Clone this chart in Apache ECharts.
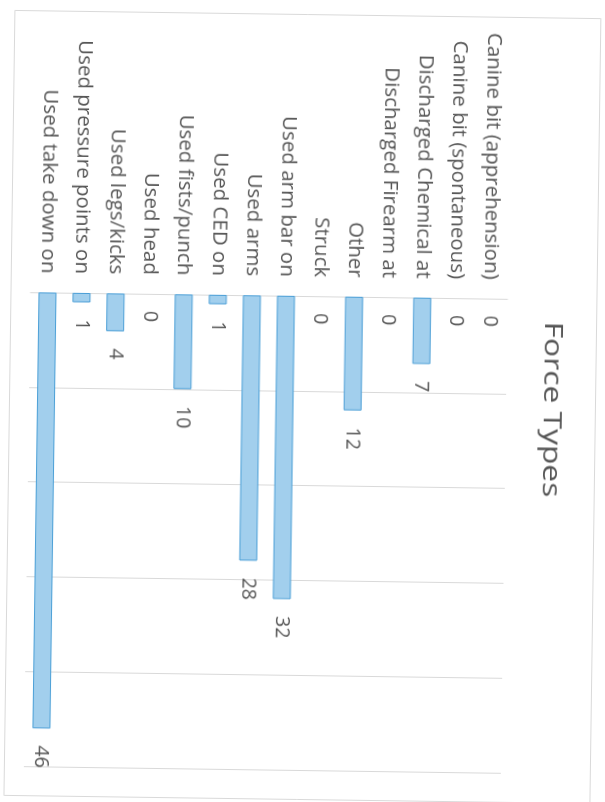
<!DOCTYPE html>
<html>
<head>
<meta charset="utf-8">
<script src="https://cdn.jsdelivr.net/npm/echarts@6/dist/echarts.min.js"></script>
<style>
  html, body { margin: 0; padding: 0; background: #ffffff; overflow: hidden; }
  #chart { width: 605px; height: 802px; transform: rotate(0.8deg); transform-origin: 50% 50%; }
</style>
</head>
<body>
<div id="chart"></div>
<script>
const titleText = 'Force Types';
const categories = [
  'Canine bit (apprehension)',
  'Canine bit (spontaneous)',
  'Discharged Chemical at',
  'Discharged Firearm at',
  'Other',
  'Struck',
  'Used arm bar on',
  'Used arms',
  'Used CED on',
  'Used fists/punch',
  'Used head',
  'Used legs/kicks',
  'Used pressure points on',
  'Used take down on'
];
const values = [0, 0, 7, 0, 12, 0, 32, 28, 1, 10, 0, 4, 1, 46];
const valueMin = 0;
const valueMax = 50;
const valueStep = 10;

const textColor = '#555555';
const font = 'Open Sans';

// zero-height bars draw no outline
const barData = values.map(v => v === 0 ? { value: v, itemStyle: { borderWidth: 0 } } : v);

const chart = echarts.init(document.getElementById('chart'), null, { renderer: 'canvas' });
chart.setOption({
  backgroundColor: '#ffffff',
  animation: false,
  grid: { left: 29, right: 99, top: 296, bottom: 32, containLabel: false },
  xAxis: {
    type: 'category',
    data: categories,
    position: 'top',
    inverse: true,
    axisLine: { show: true, lineStyle: { color: '#d9d9d9', width: 1 } },
    axisTick: { show: false },
    axisLabel: {
      rotate: -90,
      margin: 19,
      fontFamily: font,
      fontSize: 20.5,
      color: textColor,
      interval: 0
    }
  },
  yAxis: {
    type: 'value',
    inverse: true,
    min: valueMin,
    max: valueMax,
    interval: valueStep,
    axisLabel: { show: false },
    axisLine: { show: false },
    axisTick: { show: false },
    splitLine: { show: true, lineStyle: { color: '#d9d9d9', width: 1 } }
  },
  series: [{
    type: 'bar',
    data: barData,
    barWidth: 18,
    itemStyle: { color: '#a2cfed', borderColor: '#4a9ed6', borderWidth: 1 },
    label: {
      show: true,
      position: 'bottom',
      rotate: -90,
      align: 'left',
      verticalAlign: 'middle',
      distance: 17,
      fontFamily: font,
      fontSize: 19.5,
      color: textColor
    }
  }],
  graphic: [
    {
      type: 'rect',
      shape: { x: 9.5, y: 14.5, width: 586, height: 785 },
      style: { fill: 'none', stroke: '#d9d9d9', lineWidth: 1 },
      silent: true,
      z: -1
    },
    {
      type: 'text',
      x: 551,
      y: 406,
      rotation: -Math.PI / 2,
      scaleX: 1.27,
      style: {
        text: titleText,
        font: '25px "Open Sans"',
        fill: textColor,
        textAlign: 'center',
        textVerticalAlign: 'middle'
      }
    }
  ]
});
</script>
</body>
</html>
